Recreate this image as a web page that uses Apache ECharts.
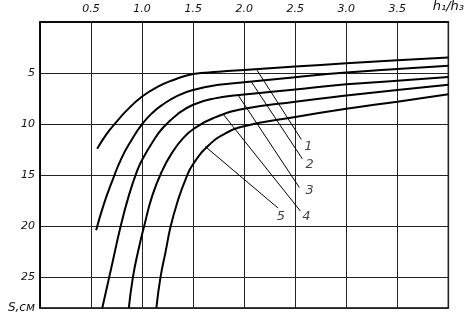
<!DOCTYPE html>
<html>
<head>
<meta charset="utf-8">
<script src="https://cdn.jsdelivr.net/npm/echarts@6/dist/echarts.min.js"></script>
<style>
  html, body { margin: 0; background: #fff; }
  #chart { width: 467px; height: 319px; }
</style>
</head>
<body>
<div id="chart"></div>
<script>
// tick labels (top x axis = h1/h3, left y axis = S, cm, inverted)
const xTickValues = [0.5, 1.0, 1.5, 2.0, 2.5, 3.0, 3.5, 4.0];
const xTickLabels = ['0.5', '1.0', '1.5', '2.0', '2.5', '3.0', '3.5', '{h|h\u2081/h\u2083}'];
const yTickValues = [5, 10, 15, 20, 25, 28];
const yTickLabels = ['5', '10', '15', '20', '25', '{s|S,см}'];

// curves [h1/h3, S]
const curve1 = [[0.56, 12.4], [0.65, 11.0], [0.73, 10.0], [0.85, 8.65], [1.0, 7.3], [1.15, 6.35], [1.3, 5.7], [1.5, 5.1], [1.75, 4.88], [2.0, 4.7], [2.5, 4.36], [3.0, 4.05], [3.5, 3.75], [4.0, 3.47]];
const curve2 = [[0.55, 20.4], [0.62, 18.0], [0.71, 15.5], [0.8, 13.3], [0.9, 11.5], [1.0, 10.0], [1.1, 8.9], [1.2, 8.1], [1.35, 7.2], [1.5, 6.65], [1.75, 6.15], [2.0, 5.9], [2.5, 5.4], [3.0, 4.95], [3.5, 4.6], [4.0, 4.29]];
const curve3 = [[0.61, 28], [0.7, 24], [0.79, 20], [0.87, 17], [0.95, 14.6], [1.0, 13.5], [1.1, 11.8], [1.2, 10.4], [1.35, 9.0], [1.5, 8.1], [1.7, 7.5], [2.0, 7.1], [2.5, 6.6], [3.0, 6.1], [3.5, 5.75], [4.0, 5.39]];
const curve4 = [[0.87, 28], [0.91, 25], [0.96, 22.5], [1.02, 20], [1.1, 17.0], [1.2, 14.5], [1.3, 12.7], [1.4, 11.4], [1.5, 10.5], [1.7, 9.4], [2.0, 8.5], [2.5, 7.8], [3.0, 7.2], [3.5, 6.65], [4.0, 6.14]];
const curve5 = [[1.14, 28], [1.18, 25], [1.23, 22.5], [1.28, 20], [1.35, 17.5], [1.43, 15.3], [1.5, 13.9], [1.65, 12.1], [1.8, 11.0], [2.0, 10.2], [2.5, 9.3], [3.0, 8.5], [3.5, 7.8], [4.0, 7.07]];
const curves = [curve1, curve2, curve3, curve4, curve5];

// leader lines from each curve to its number, and the numbers
const leaders = [
  [[2.12, 4.62], [2.56, 11.5]],
  [[2.07, 5.85], [2.57, 13.4]],
  [[1.94, 7.15], [2.54, 16.2]],
  [[1.8, 9.1], [2.55, 18.5]],
  [[1.62, 12.2], [2.33, 18.2]]
];
const curveNames = ['1', '2', '3', '4', '5'];
const namePos = [[2.63, 12.2], [2.64, 13.95], [2.64, 16.5], [2.61, 19.1], [2.36, 19.1]];

function pick(values, labels, v) {
  for (let i = 0; i < values.length; i++) {
    if (Math.abs(values[i] - v) < 1e-6) return labels[i];
  }
  return '';
}

const font = { fontFamily: 'DejaVu Sans', fontStyle: 'italic', color: '#111', fontSize: 11 };

const series = [];
curves.forEach((c, i) => {
  series.push({
    type: 'line',
    name: curveNames[i],
    data: c,
    showSymbol: false,
    smooth: 0.5,
    lineStyle: { color: '#000', width: 2 },
    z: 3
  });
});
leaders.forEach((l) => {
  series.push({
    type: 'line',
    data: l,
    showSymbol: false,
    lineStyle: { color: '#000', width: 1 },
    z: 2
  });
});
series.push({
  type: 'scatter',
  symbolSize: 0,
  data: namePos.map((p, i) => ({ name: curveNames[i], value: p })),
  label: {
    show: true,
    position: 'inside',
    formatter: '{b}',
    ...font,
    fontSize: 13
  }
});

const chart = echarts.init(document.getElementById('chart'));
chart.setOption({
  backgroundColor: '#fff',
  animation: false,
  grid: {
    left: 40, right: 15, top: 22, bottom: 11,
    show: true, borderColor: '#000', borderWidth: 1.5
  },
  xAxis: {
    type: 'value',
    position: 'top',
    min: 0, max: 4, interval: 0.5,
    axisLine: { show: true, lineStyle: { color: '#000', width: 1.5 } },
    axisTick: { show: false },
    splitLine: { show: true, lineStyle: { color: '#222', width: 1 } },
    axisLabel: {
      ...font,
      margin: 7,
      customValues: xTickValues,
      formatter: (v) => pick(xTickValues, xTickLabels, v),
      rich: {
        h: { fontFamily: 'DejaVu Sans', fontStyle: 'italic', fontSize: 13, color: '#111', padding: [0, 0, 2, 0] }
      }
    }
  },
  yAxis: {
    type: 'value',
    inverse: true,
    min: 0, max: 28, interval: 5,
    axisLine: { show: true, lineStyle: { color: '#000', width: 1.5 } },
    axisTick: { show: false },
    splitLine: { show: true, lineStyle: { color: '#222', width: 1 } },
    axisLabel: {
      ...font,
      margin: 5,
      customValues: yTickValues,
      formatter: (v) => pick(yTickValues, yTickLabels, v),
      rich: {
        s: { fontFamily: 'DejaVu Sans', fontStyle: 'italic', fontSize: 12, color: '#111' }
      }
    }
  },
  series: series
});
</script>
</body>
</html>
